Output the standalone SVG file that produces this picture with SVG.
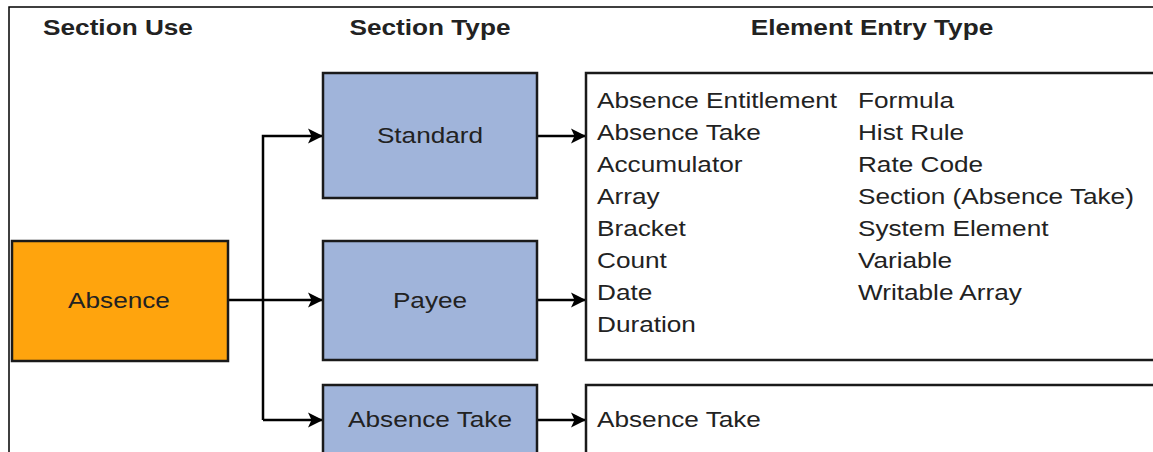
<svg xmlns="http://www.w3.org/2000/svg" width="1153" height="452" viewBox="0 0 1153 452">
<style>
text{font-family:"Liberation Sans",Arial,sans-serif;font-size:22px;fill:#222}
.h{font-weight:bold}
.c{text-anchor:middle}
.box{stroke:#1a1a1a;stroke-width:2.5}
.blue{fill:#A0B4DA}
.orange{fill:#FFA40D}
.white{fill:#fff}
.conn{fill:none;stroke:#000;stroke-width:2.5}
</style>
<defs>
<marker id="arr" markerUnits="userSpaceOnUse" markerWidth="16" markerHeight="16" viewBox="0 0 16 16" refX="15" refY="8" orient="auto">
<path d="M0,0.5 L15,8 L0,15.5 L3.5,8 Z" fill="#000"/>
</marker>
</defs>
<rect width="1153" height="452" fill="#fff"/>
<path d="M9,452 V7 H1153" fill="none" stroke="#000" stroke-width="1.5"/>
<g id="headers">
<text class="h c" transform="translate(118,35) scale(1.19,1)">Section Use</text>
<text class="h c" transform="translate(430,35) scale(1.19,1)">Section Type</text>
<text class="h c" transform="translate(872,35) scale(1.19,1)">Element Entry Type</text>
</g>
<g id="connectors">
<path class="conn" d="M228,300 H323" marker-end="url(#arr)"/>
<path class="conn" d="M263,420 V136 H323" marker-end="url(#arr)"/>
<path class="conn" d="M263,420 H323" marker-end="url(#arr)"/>
<path class="conn" d="M537,136 H586" marker-end="url(#arr)"/>
<path class="conn" d="M537,300 H586" marker-end="url(#arr)"/>
<path class="conn" d="M537,420 H586" marker-end="url(#arr)"/>
</g>
<g id="absence">
<rect class="box orange" x="12" y="241" width="216" height="120"/>
<text class="c" transform="translate(119,308) scale(1.19,1)">Absence</text>
</g>
<g id="standard">
<rect class="box blue" x="323" y="73" width="214" height="125"/>
<text class="c" transform="translate(430,143) scale(1.19,1)">Standard</text>
</g>
<g id="payee">
<rect class="box blue" x="323" y="241" width="214" height="119"/>
<text class="c" transform="translate(430,308) scale(1.19,1)">Payee</text>
</g>
<g id="absence-take">
<rect class="box blue" x="323" y="385" width="214" height="80"/>
<text class="c" transform="translate(430,427) scale(1.19,1)">Absence Take</text>
</g>
<g id="elements-list">
<rect class="box white" x="586" y="73" width="580" height="287"/>
<g transform="translate(597,0) scale(1.19,1)">
<text x="0" y="108">Absence Entitlement</text>
<text x="0" y="140">Absence Take</text>
<text x="0" y="172">Accumulator</text>
<text x="0" y="204">Array</text>
<text x="0" y="236">Bracket</text>
<text x="0" y="268">Count</text>
<text x="0" y="300">Date</text>
<text x="0" y="332">Duration</text>
<text x="219.3" y="108">Formula</text>
<text x="219.3" y="140">Hist Rule</text>
<text x="219.3" y="172">Rate Code</text>
<text x="219.3" y="204">Section (Absence Take)</text>
<text x="219.3" y="236">System Element</text>
<text x="219.3" y="268">Variable</text>
<text x="219.3" y="300">Writable Array</text>
</g>
</g>
<g id="elements-absence-take">
<rect class="box white" x="586" y="385" width="580" height="80"/>
<text transform="translate(597,427) scale(1.19,1)">Absence Take</text>
</g>
</svg>
